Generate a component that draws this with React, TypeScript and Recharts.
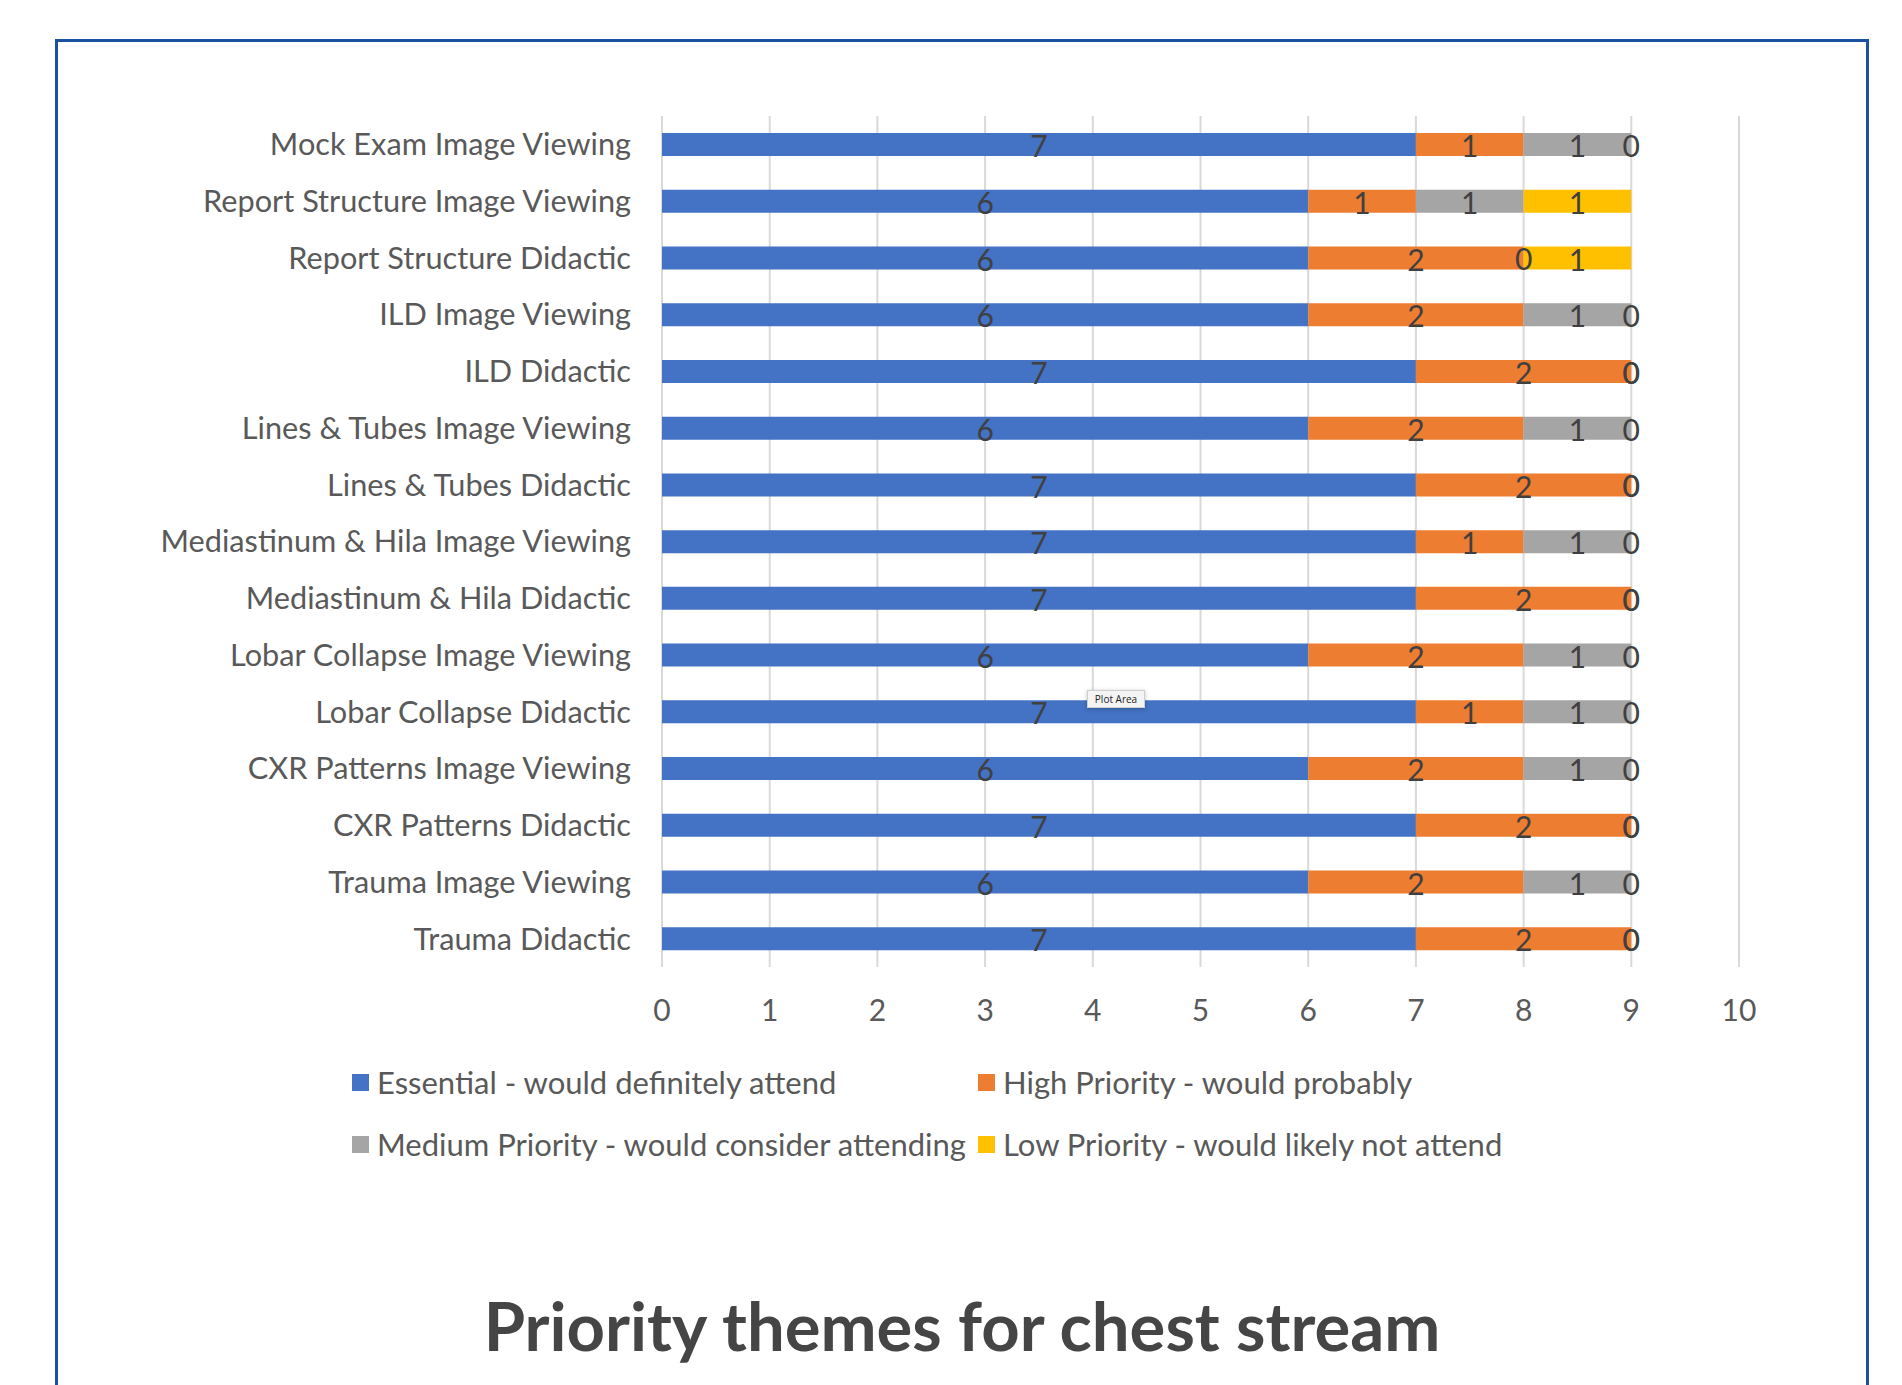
import React from 'react';
import { BarChart, Bar, XAxis, YAxis, CartesianGrid, LabelList, ReferenceDot } from 'recharts';

const categories = [
  'Mock Exam Image Viewing',
  'Report Structure Image Viewing',
  'Report Structure Didactic',
  'ILD Image Viewing',
  'ILD Didactic',
  'Lines & Tubes Image Viewing',
  'Lines & Tubes Didactic',
  'Mediastinum & Hila Image Viewing',
  'Mediastinum & Hila Didactic',
  'Lobar Collapse Image Viewing',
  'Lobar Collapse Didactic',
  'CXR Patterns Image Viewing',
  'CXR Patterns Didactic',
  'Trauma Image Viewing',
  'Trauma Didactic',
];
const essential = [7, 6, 6, 6, 7, 6, 7, 7, 7, 6, 7, 6, 7, 6, 7];
const high = [1, 1, 2, 2, 2, 2, 2, 1, 2, 2, 1, 2, 2, 2, 2];
const medium = [1, 1, 0, 1, 0, 1, 0, 1, 0, 1, 1, 1, 0, 1, 0];
const low = [0, 1, 1, 0, 0, 0, 0, 0, 0, 0, 0, 0, 0, 0, 0];
const xTicks = [0, 1, 2, 3, 4, 5, 6, 7, 8, 9, 10];
const seriesKeys = ['essential', 'high', 'medium', 'low'];
const seriesValues = [essential, high, medium, low];
const seriesNames = [
  'Essential - would definitely attend',
  'High Priority - would probably',
  'Medium Priority - would consider attending',
  'Low Priority - would likely not attend',
];
const seriesColors = ['#4472C4', '#ED7D31', '#A5A5A5', '#FFC000'];
const title = 'Priority themes for chest stream';

const data = categories.map((name, i) => ({
  name,
  essential: essential[i],
  high: high[i],
  medium: medium[i],
  low: low[i],
}));

// zero-valued segments still carry a "0" data label at their stacked position
const zeroLabels: { name: string; x: number; key: string }[] = [];
categories.forEach((name, i) => {
  let cum = 0;
  seriesValues.forEach((vals, s) => {
    if (vals[i] === 0) zeroLabels.push({ name, x: cum, key: `${i}-${s}` });
    cum += vals[i];
  });
});

const FONT = 'Lato, "Open Sans", sans-serif';
const LABEL_FILL = '#404040';

export default function App() {
  return (
    <div style={{ position: 'absolute', left: 0, top: 0, width: 1902, height: 1385, overflow: 'hidden', background: '#fff', fontFamily: FONT }}>
      <div style={{ position: 'absolute', left: 55, top: 39, width: 1814, height: 1420, border: '3px solid #1B52A0', boxSizing: 'border-box' }} />
      <div style={{ position: 'absolute', left: 0, top: 0 }}>
        <BarChart
          width={1902}
          height={1385}
          data={data}
          layout="vertical"
          barSize={23}
          margin={{ top: 116, right: 163, bottom: 358, left: 0 }}
        >
          <CartesianGrid horizontal={false} vertical={true} stroke="#D9D9D9" strokeWidth={2} />
          <XAxis
            type="number"
            domain={[0, 10]}
            ticks={xTicks}
            interval={0}
            axisLine={false}
            tickLine={false}
            tickSize={0}
            tickMargin={33}
            height={60}
            tick={{ fill: '#595959', fontSize: 30, fontFamily: FONT }}
          />
          <YAxis
            type="category"
            dataKey="name"
            width={662}
            axisLine={false}
            tickLine={false}
            tickSize={0}
            tickMargin={31}
            interval={0}
            tick={{ fill: '#595959', fontSize: 30.7, fontFamily: FONT }}
          />
          {seriesKeys.map((k, i) => (
            <Bar key={k} dataKey={k} name={seriesNames[i]} stackId="a" fill={seriesColors[i]} isAnimationActive={false}>
              <LabelList dataKey={k} position="center" fill={LABEL_FILL} fontSize={30} fontFamily={FONT} dy={2} />
            </Bar>
          ))}
          {zeroLabels.map((z) => (
            <ReferenceDot
              key={z.key}
              x={z.x}
              y={z.name}
              r={0.5}
              fill="none"
              stroke="none"
              ifOverflow="visible"
              label={{ value: '0', position: 'center', fill: LABEL_FILL, fontSize: 30, fontFamily: FONT, dy: 2 }}
            />
          ))}
        </BarChart>
      </div>
      {seriesNames.map((n, i) => {
        const col = i % 2;
        const row = Math.floor(i / 2);
        const left = col === 0 ? 352 : 978;
        const top = row === 0 ? 1082 : 1144;
        return (
          <div key={n} style={{ position: 'absolute', left, top: top - 20, height: 40, display: 'flex', alignItems: 'center', whiteSpace: 'nowrap' }}>
            <span style={{ display: 'inline-block', width: 17, height: 17, background: seriesColors[i], marginRight: 8 }} />
            <span style={{ fontSize: 31, color: '#595959' }}>{n}</span>
          </div>
        );
      })}
      <div style={{ position: 'absolute', left: 56, width: 1812, top: 1283, textAlign: 'center', fontSize: 67, fontWeight: 700, color: '#454545', lineHeight: '84px', whiteSpace: 'nowrap' }}>
        {title}
      </div>
      <div style={{ position: 'absolute', left: 1087, top: 690, width: 58, height: 18, background: '#F4F4F4', border: '1px solid #CFCFCF', boxShadow: '0 1px 4px rgba(0,0,0,0.25)', fontFamily: '"Open Sans", sans-serif', fontSize: 10, color: '#222', display: 'flex', alignItems: 'center', justifyContent: 'center', boxSizing: 'border-box' }}>
        Plot Area
      </div>
    </div>
  );
}
